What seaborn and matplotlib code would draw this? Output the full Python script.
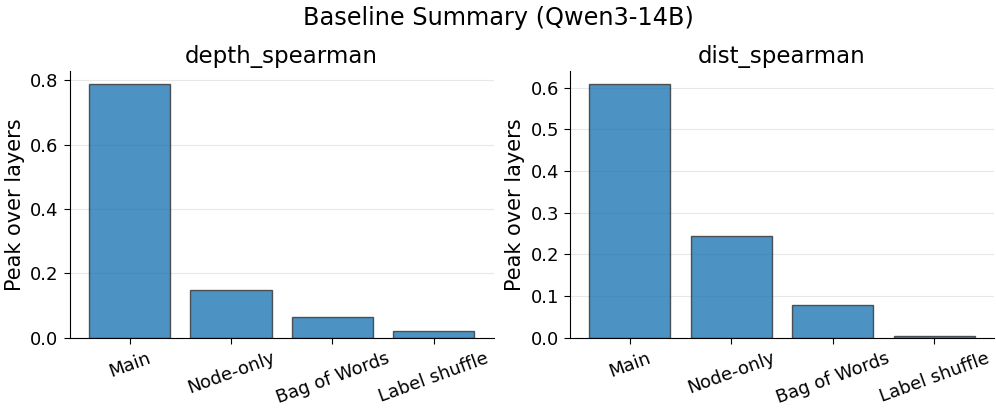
import pandas as pd
import matplotlib
matplotlib.use("Agg")
import matplotlib.pyplot as plt
from matplotlib.ticker import MultipleLocator
import seaborn as sns

# Values
conditions = ["Main", "Node-only", "Bag of Words", "Label shuffle"]
depth_spearman = [0.789, 0.149, 0.064, 0.020]
dist_spearman = [0.609, 0.243, 0.078, 0.005]

metrics = {"depth_spearman": depth_spearman, "dist_spearman": dist_spearman}
tick_steps = {"depth_spearman": 0.2, "dist_spearman": 0.1}

plt.rcParams["font.family"] = ["DejaVu Sans"]

fig, axes = plt.subplots(1, 2, figsize=(9.96, 4.09), dpi=100)

for ax, (name, vals) in zip(axes, metrics.items()):
    df = pd.DataFrame({"condition": conditions, "value": vals})
    sns.barplot(data=df, x="condition", y="value", ax=ax, color="#1f77b4",
                saturation=1, alpha=0.8, edgecolor="#333333", linewidth=1,
                width=0.8)
    ax.set_xlim(-0.59, len(conditions) - 0.41)
    ax.yaxis.set_major_locator(MultipleLocator(tick_steps[name]))
    ax.set_title(name, fontsize=16.5)
    ax.set_xlabel("")
    ax.set_ylabel("Peak over layers", fontsize=15)
    ax.tick_params(axis="both", labelsize=13, length=4.5)
    ax.tick_params(axis="x", rotation=20)
    ax.yaxis.grid(True, alpha=0.3)
    ax.set_axisbelow(True)
    sns.despine(ax=ax)

fig.suptitle("Baseline Summary (Qwen3-14B)", fontsize=17.3, y=0.985)
fig.subplots_adjust(left=0.070, right=0.998, bottom=0.174, top=0.826, wspace=0.18)
fig.savefig("out.png", dpi=100)
